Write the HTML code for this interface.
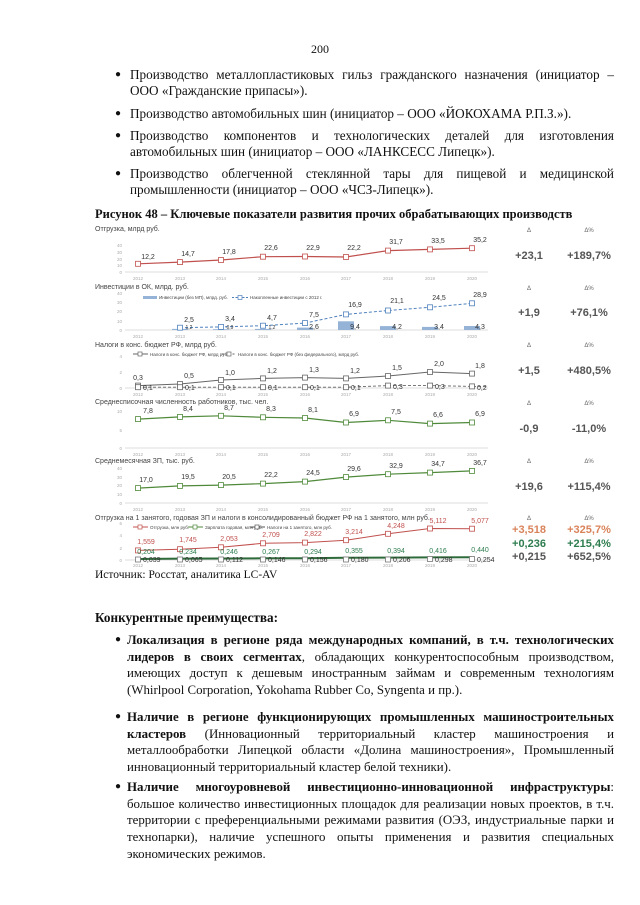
<!DOCTYPE html><html><head><meta charset="utf-8"><style>
body{margin:0;width:640px;height:905px;background:#fff;position:relative;overflow:hidden;font-family:"Liberation Serif",serif;color:#111}
.p{position:absolute;font-size:13.2px;line-height:16px;text-align:justify;text-align-last:left}
.q{position:absolute;font-size:12.9px;line-height:16.7px;text-align:justify;text-align-last:left}
.b{position:absolute;font-size:10px}
svg{position:absolute;left:0;top:0}
</style></head><body>
<div class="p" style="left:0;top:41px;width:640px;text-align:center;text-align-last:center;font-size:12px">200</div>
<div class="b" style="left:115px;top:69px">●</div>
<div class="p" style="left:130px;top:67px;width:484px"><span style="display:block;text-align:justify;text-align-last:justify">Производство металлопластиковых гильз гражданского назначения (инициатор –</span>ООО «Гражданские припасы»).</div>
<div class="b" style="left:115px;top:108px">●</div>
<div class="p" style="left:130px;top:106px;width:484px">Производство автомобильных шин (инициатор – ООО «ЙОКОХАМА Р.П.З.»).</div>
<div class="b" style="left:115px;top:130px">●</div>
<div class="p" style="left:130px;top:128px;width:484px"><span style="display:block;text-align:justify;text-align-last:justify">Производство компонентов и технологических деталей для изготовления</span>автомобильных шин (инициатор – ООО «ЛАНКСЕСС Липецк»).</div>
<div class="b" style="left:115px;top:168px">●</div>
<div class="p" style="left:130px;top:166px;width:484px"><span style="display:block;text-align:justify;text-align-last:justify">Производство облегченной стеклянной тары для пищевой и медицинской</span>промышленности (инициатор – ООО «ЧСЗ-Липецк»).</div>
<div class="p" style="left:95px;top:206px;font-weight:bold;font-size:12.5px">Рисунок 48 – Ключевые показатели развития прочих обрабатывающих производств</div>

<svg width="640" height="905" font-family="Liberation Sans, sans-serif">
<g font-size="7" fill="#444">
<text x="95" y="231">Отгрузка, млрд руб.</text>
<text x="95" y="289">Инвестиции в ОК, млрд. руб.</text>
<text x="95" y="347">Налоги в конс. бюджет РФ, млрд руб.</text>
<text x="95" y="404">Среднесписочная численность работников, тыс. чел.</text>
<text x="95" y="463">Среднемесячная ЗП, тыс. руб.</text>
<text x="95" y="520">Отгрузка на 1 занятого, годовая ЗП и налоги в консолидированный бюджет РФ на 1 занятого, млн руб.</text>
</g>
<g stroke="#d0d0d0" stroke-width="0.8">
<line x1="125" y1="272" x2="488" y2="272"/><line x1="125" y1="330" x2="488" y2="330"/><line x1="125" y1="388" x2="488" y2="388"/><line x1="125" y1="448" x2="488" y2="448"/><line x1="125" y1="503" x2="488" y2="503"/><line x1="125" y1="560" x2="488" y2="560"/>
</g>
<g font-size="4.5" fill="#aaa" text-anchor="middle">
<g id="yr"><text x="138" y="280">2012</text><text x="180" y="280">2013</text><text x="221" y="280">2014</text><text x="263" y="280">2015</text><text x="305" y="280">2016</text><text x="346" y="280">2017</text><text x="388" y="280">2018</text><text x="430" y="280">2019</text><text x="472" y="280">2020</text></g>
<use href="#yr" y="58"/><use href="#yr" y="116"/><use href="#yr" y="176"/><use href="#yr" y="231"/><use href="#yr" y="287"/>
</g>
<g font-size="4.5" fill="#aaa" text-anchor="end">
<text x="122" y="247">40</text><text x="122" y="254">30</text><text x="122" y="261">20</text><text x="122" y="267">10</text><text x="122" y="274">0</text>
<text x="122" y="295">40</text><text x="122" y="304">30</text><text x="122" y="313">20</text><text x="122" y="323">10</text><text x="122" y="332">0</text>
<text x="122" y="358">4</text><text x="122" y="374">2</text><text x="122" y="390">0</text>
<text x="122" y="413">10</text><text x="122" y="432">5</text><text x="122" y="450">0</text>
<text x="122" y="470">40</text><text x="122" y="479">30</text><text x="122" y="487">20</text><text x="122" y="496">10</text><text x="122" y="505">0</text>
<text x="122" y="525">6</text><text x="122" y="537">4</text><text x="122" y="550">2</text><text x="122" y="562">0</text>
</g>
<!-- panel 1 -->
<polyline fill="none" stroke="#c0504d" stroke-width="1.2" points="138,263.8 180,262.1 221,260 263,256.7 305,256.5 346,257 388,250.6 430,249.4 472,248.2"/>
<g fill="#fff" stroke="#c0504d" stroke-width="0.8"><rect x="135.5" y="261.3" width="5" height="5"/><rect x="177.5" y="259.6" width="5" height="5"/><rect x="218.5" y="257.5" width="5" height="5"/><rect x="260.5" y="254.2" width="5" height="5"/><rect x="302.5" y="254" width="5" height="5"/><rect x="343.5" y="254.5" width="5" height="5"/><rect x="385.5" y="248.1" width="5" height="5"/><rect x="427.5" y="246.9" width="5" height="5"/><rect x="469.5" y="245.7" width="5" height="5"/></g>
<g font-size="7" fill="#333" text-anchor="middle"><text x="148" y="259">12,2</text><text x="188" y="256">14,7</text><text x="229" y="254">17,8</text><text x="271" y="250">22,6</text><text x="313" y="250">22,9</text><text x="354" y="250">22,2</text><text x="396" y="244">31,7</text><text x="438" y="243">33,5</text><text x="480" y="242">35,2</text></g>
<!-- panel 2 -->
<g fill="#95b3d7"><rect x="172" y="328.9" width="16" height="1.1"/><rect x="213" y="329.2" width="16" height="0.8"/><rect x="255" y="328.9" width="16" height="1.1"/><rect x="297" y="327.6" width="16" height="2.4"/><rect x="338" y="321.3" width="16" height="8.7"/><rect x="380" y="326.1" width="16" height="3.9"/><rect x="422" y="326.9" width="16" height="3.1"/><rect x="464" y="326" width="16" height="4"/></g>
<rect x="143" y="296" width="14" height="3" fill="#95b3d7"/>
<text x="159" y="299" font-size="4.5" fill="#444">Инвестиции (без МП), млрд. руб.</text>
<line x1="232" y1="297.5" x2="248" y2="297.5" stroke="#4f81bd" stroke-dasharray="2,1.5"/><rect x="238" y="295.5" width="4" height="4" fill="#fff" stroke="#4f81bd" stroke-width="0.7"/>
<text x="250" y="299" font-size="4.5" fill="#444">Накопленные инвестиции с 2012 г.</text>
<polyline fill="none" stroke="#4f81bd" stroke-width="1" stroke-dasharray="3,2" points="180,327.7 221,326.9 263,325.7 305,323.1 346,314.4 388,310.5 430,307.3 472,303.3"/>
<g fill="#fff" stroke="#4f81bd" stroke-width="0.8"><rect x="177.5" y="325.2" width="5" height="5"/><rect x="218.5" y="324.4" width="5" height="5"/><rect x="260.5" y="323.2" width="5" height="5"/><rect x="302.5" y="320.6" width="5" height="5"/><rect x="343.5" y="311.9" width="5" height="5"/><rect x="385.5" y="308" width="5" height="5"/><rect x="427.5" y="304.8" width="5" height="5"/><rect x="469.5" y="300.8" width="5" height="5"/></g>
<g font-size="7" fill="#333" text-anchor="middle"><text x="189" y="322">2,5</text><text x="230" y="321">3,4</text><text x="272" y="320">4,7</text><text x="314" y="317">7,5</text><text x="355" y="307">16,9</text><text x="397" y="303">21,1</text><text x="439" y="300">24,5</text><text x="480" y="297">28,9</text>
<text x="355" y="329">9,4</text><text x="397" y="329">4,2</text><text x="439" y="329">3,4</text><text x="480" y="329">4,3</text><text x="189" y="329" font-size="5">1,2</text><text x="230" y="329" font-size="5">0,9</text><text x="272" y="329" font-size="5">1,2</text><text x="314" y="329">2,6</text></g>
<!-- panel 3 -->
<line x1="133" y1="354" x2="148" y2="354" stroke="#666"/><rect x="138" y="352" width="4" height="4" fill="#fff" stroke="#666" stroke-width="0.7"/>
<text x="150" y="356" font-size="4.5" fill="#444">Налоги в конс. бюджет РФ, млрд руб.</text>
<line x1="222" y1="354" x2="236" y2="354" stroke="#666" stroke-dasharray="2,1.5"/><rect x="227" y="352" width="4" height="4" fill="#fff" stroke="#666" stroke-width="0.7"/>
<text x="238" y="356" font-size="4.5" fill="#444">Налоги в конс. бюджет РФ (без федерального), млрд руб.</text>
<polyline fill="none" stroke="#666" stroke-width="1" points="138,385.6 180,384 221,380 263,378.4 305,377.6 346,378.4 388,376 430,372 472,373.6"/>
<polyline fill="none" stroke="#666" stroke-width="0.9" stroke-dasharray="3,2" points="138,387.2 180,387.2 221,387.2 263,387.2 305,387.2 346,387.2 388,385.6 430,385.6 472,386.4 488,386.4"/>
<g fill="#fff" stroke="#666" stroke-width="0.8"><rect x="135.5" y="383.1" width="5" height="5"/><rect x="177.5" y="381.5" width="5" height="5"/><rect x="218.5" y="377.5" width="5" height="5"/><rect x="260.5" y="375.9" width="5" height="5"/><rect x="302.5" y="375.1" width="5" height="5"/><rect x="343.5" y="375.9" width="5" height="5"/><rect x="385.5" y="373.5" width="5" height="5"/><rect x="427.5" y="369.5" width="5" height="5"/><rect x="469.5" y="371.1" width="5" height="5"/>
<rect x="135.5" y="384.7" width="5" height="5"/><rect x="177.5" y="384.7" width="5" height="5"/><rect x="218.5" y="384.7" width="5" height="5"/><rect x="260.5" y="384.7" width="5" height="5"/><rect x="302.5" y="384.7" width="5" height="5"/><rect x="343.5" y="384.7" width="5" height="5"/><rect x="385.5" y="383.1" width="5" height="5"/><rect x="427.5" y="383.1" width="5" height="5"/><rect x="469.5" y="383.9" width="5" height="5"/></g>
<g font-size="7" fill="#333" text-anchor="middle"><text x="138" y="380">0,3</text><text x="189" y="378">0,5</text><text x="230" y="375">1,0</text><text x="272" y="373">1,2</text><text x="314" y="372">1,3</text><text x="355" y="373">1,2</text><text x="397" y="370">1,5</text><text x="439" y="366">2,0</text><text x="480" y="368">1,8</text></g>
<g font-size="7" fill="#333"><text x="143" y="390">0,1</text><text x="185" y="390">0,1</text><text x="226" y="390">0,1</text><text x="268" y="390">0,1</text><text x="310" y="390">0,1</text><text x="351" y="390">0,1</text><text x="393" y="389">0,3</text><text x="435" y="389">0,3</text><text x="477" y="390">0,2</text></g>
<!-- panel 4 -->
<polyline fill="none" stroke="#4f8a3a" stroke-width="1.2" points="138,419.1 180,416.9 221,415.8 263,417.3 305,418 346,422.5 388,420.3 430,423.6 472,422.5"/>
<g fill="#fff" stroke="#4f8a3a" stroke-width="0.8"><rect x="135.5" y="416.6" width="5" height="5"/><rect x="177.5" y="414.4" width="5" height="5"/><rect x="218.5" y="413.3" width="5" height="5"/><rect x="260.5" y="414.8" width="5" height="5"/><rect x="302.5" y="415.5" width="5" height="5"/><rect x="343.5" y="420" width="5" height="5"/><rect x="385.5" y="417.8" width="5" height="5"/><rect x="427.5" y="421.1" width="5" height="5"/><rect x="469.5" y="420" width="5" height="5"/></g>
<g font-size="7" fill="#333" text-anchor="middle"><text x="148" y="413">7,8</text><text x="188" y="411">8,4</text><text x="229" y="410">8,7</text><text x="271" y="411">8,3</text><text x="313" y="412">8,1</text><text x="354" y="416">6,9</text><text x="396" y="414">7,5</text><text x="438" y="417">6,6</text><text x="480" y="416">6,9</text></g>
<!-- panel 5 -->
<polyline fill="none" stroke="#4f8a3a" stroke-width="1.2" points="138,488.1 180,485.9 221,485.1 263,483.6 305,481.6 346,477.1 388,474.2 430,472.6 472,470.9"/>
<g fill="#fff" stroke="#4f8a3a" stroke-width="0.8"><rect x="135.5" y="485.6" width="5" height="5"/><rect x="177.5" y="483.4" width="5" height="5"/><rect x="218.5" y="482.6" width="5" height="5"/><rect x="260.5" y="481.1" width="5" height="5"/><rect x="302.5" y="479.1" width="5" height="5"/><rect x="343.5" y="474.6" width="5" height="5"/><rect x="385.5" y="471.7" width="5" height="5"/><rect x="427.5" y="470.1" width="5" height="5"/><rect x="469.5" y="468.4" width="5" height="5"/></g>
<g font-size="7" fill="#333" text-anchor="middle"><text x="146" y="482">17,0</text><text x="188" y="479">19,5</text><text x="229" y="479">20,5</text><text x="271" y="477">22,2</text><text x="313" y="475">24,5</text><text x="354" y="471">29,6</text><text x="396" y="468">32,9</text><text x="438" y="466">34,7</text><text x="480" y="465">36,7</text></g>
<!-- panel 6 -->
<line x1="133" y1="527" x2="148" y2="527" stroke="#c0504d"/><rect x="138" y="525" width="4" height="4" fill="#fff" stroke="#c0504d" stroke-width="0.7"/>
<text x="150" y="529" font-size="4.5" fill="#444">Отгрузка, млн руб.</text>
<line x1="188" y1="527" x2="203" y2="527" stroke="#4f8a3a"/><rect x="193" y="525" width="4" height="4" fill="#fff" stroke="#4f8a3a" stroke-width="0.7"/>
<text x="205" y="529" font-size="4.5" fill="#444">Зарплата годовая, млн руб.</text>
<line x1="250" y1="527" x2="265" y2="527" stroke="#555"/><rect x="255" y="525" width="4" height="4" fill="#fff" stroke="#555" stroke-width="0.7"/>
<text x="267" y="529" font-size="4.5" fill="#444">Налоги на 1 занятого, млн руб.</text>
<polyline fill="none" stroke="#c0504d" stroke-width="1" points="138,550.4 180,549.2 221,547.3 263,543.3 305,542.6 346,540.2 388,533.8 430,528.5 472,528.7"/>
<polyline fill="none" stroke="#2e6b3a" stroke-width="2" points="138,559 180,558.6 221,558.5 263,558.3 305,558.2 346,557.8 388,557.6 430,557.4 472,557.3"/>
<g fill="#fff" stroke="#c0504d" stroke-width="0.8"><rect x="135.5" y="547.9" width="5" height="5"/><rect x="177.5" y="546.7" width="5" height="5"/><rect x="218.5" y="544.8" width="5" height="5"/><rect x="260.5" y="540.8" width="5" height="5"/><rect x="302.5" y="540.1" width="5" height="5"/><rect x="343.5" y="537.7" width="5" height="5"/><rect x="385.5" y="531.3" width="5" height="5"/><rect x="427.5" y="526" width="5" height="5"/><rect x="469.5" y="526.2" width="5" height="5"/></g>
<g fill="#fff" stroke="#777" stroke-width="0.8"><rect x="135.5" y="557" width="5" height="5"/><rect x="177.5" y="557" width="5" height="5"/><rect x="218.5" y="557" width="5" height="5"/><rect x="260.5" y="557" width="5" height="5"/><rect x="302.5" y="557" width="5" height="5"/><rect x="343.5" y="557" width="5" height="5"/><rect x="385.5" y="557" width="5" height="5"/><rect x="427.5" y="556.5" width="5" height="5"/><rect x="469.5" y="556.5" width="5" height="5"/></g>
<g font-size="7" fill="#c0504d" text-anchor="middle"><text x="146" y="544">1,559</text><text x="188" y="542">1,745</text><text x="229" y="541">2,053</text><text x="271" y="537">2,709</text><text x="313" y="536">2,822</text><text x="354" y="534">3,214</text><text x="396" y="528">4,248</text><text x="438" y="523">5,112</text><text x="480" y="523">5,077</text></g>
<g font-size="7" fill="#2e7d4f" text-anchor="middle"><text x="146" y="554">0,204</text><text x="188" y="554">0,234</text><text x="229" y="554">0,246</text><text x="271" y="554">0,267</text><text x="313" y="554">0,294</text><text x="354" y="553">0,355</text><text x="396" y="553">0,394</text><text x="438" y="553">0,416</text><text x="480" y="552">0,440</text></g>
<g font-size="7" fill="#333"><text x="143" y="562">0,039</text><text x="185" y="562">0,065</text><text x="226" y="562">0,112</text><text x="268" y="562">0,146</text><text x="310" y="562">0,156</text><text x="351" y="562">0,180</text><text x="393" y="562">0,206</text><text x="435" y="562">0,298</text><text x="477" y="562">0,254</text></g>
<!-- right deltas -->
<g font-size="6" fill="#666" text-anchor="middle">
<text x="529" y="232">Δ</text><text x="589" y="232">Δ%</text>
<text x="529" y="290">Δ</text><text x="589" y="290">Δ%</text>
<text x="529" y="347">Δ</text><text x="589" y="347">Δ%</text>
<text x="529" y="405">Δ</text><text x="589" y="405">Δ%</text>
<text x="529" y="463">Δ</text><text x="589" y="463">Δ%</text>
<text x="529" y="520">Δ</text><text x="589" y="520">Δ%</text>
</g>
<g font-size="11" fill="#555" text-anchor="middle" font-weight="bold">
<text x="529" y="259">+23,1</text><text x="589" y="259">+189,7%</text>
<text x="529" y="316">+1,9</text><text x="589" y="316">+76,1%</text>
<text x="529" y="374">+1,5</text><text x="589" y="374">+480,5%</text>
<text x="529" y="432">-0,9</text><text x="589" y="432">-11,0%</text>
<text x="529" y="490">+19,6</text><text x="589" y="490">+115,4%</text>
<text x="529" y="533" fill="#d9835a">+3,518</text><text x="589" y="533" fill="#d9835a">+325,7%</text>
<text x="529" y="547" fill="#2e7d4f">+0,236</text><text x="589" y="547" fill="#2e7d4f">+215,4%</text>
<text x="529" y="560">+0,215</text><text x="589" y="560">+652,5%</text>
</g>
</svg>
<div class="p" style="left:95px;top:567px;font-size:11.5px">Источник: Росстат, аналитика LC-AV</div>

<div class="p" style="left:95px;top:610px;font-weight:bold">Конкурентные преимущества:</div>
<div class="b" style="left:115px;top:634px">●</div>
<div class="q" style="left:127px;top:632px;width:487px"><b>Локализация в регионе ряда международных компаний, в т.ч. технологических лидеров в своих сегментах</b>, обладающих конкурентоспособным производством, имеющих доступ к дешевым иностранным займам и современным технологиям (Whirlpool Corporation, Yokohama Rubber Co, Syngenta и пр.).</div>
<div class="b" style="left:115px;top:711px">●</div>
<div class="q" style="left:127px;top:709px;width:487px"><b>Наличие в регионе функционирующих промышленных машиностроительных кластеров</b> (Инновационный территориальный кластер машиностроения и металлообработки Липецкой области «Долина машиностроения», Промышленный инновационный территориальный кластер белой техники).</div>
<div class="b" style="left:115px;top:781px">●</div>
<div class="q" style="left:127px;top:779px;width:487px"><b>Наличие многоуровневой инвестиционно-инновационной инфраструктуры</b>: большое количество инвестиционных площадок для реализации новых проектов, в т.ч. территории с преференциальными режимами развития (ОЭЗ, индустриальные парки и технопарки), наличие успешного опыты применения и развития специальных экономических режимов.</div>
</body></html>
